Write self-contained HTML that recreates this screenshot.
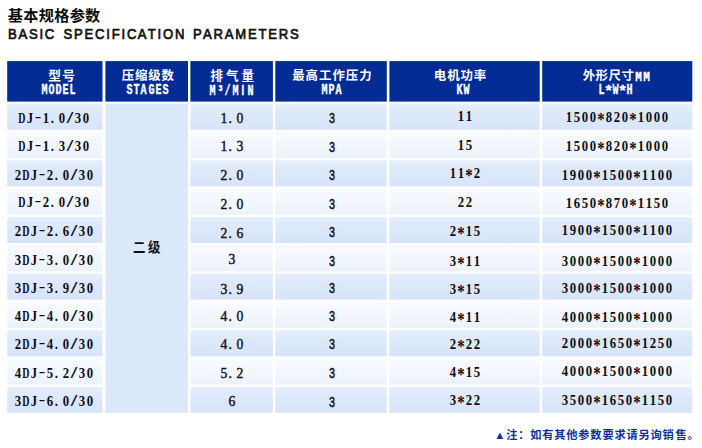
<!DOCTYPE html>
<html lang="zh"><head><meta charset="utf-8"><title>基本规格参数</title><style>
html,body{margin:0;padding:0;background:#fff;}
body{width:702px;height:448px;position:relative;overflow:hidden;font-family:"Liberation Sans",sans-serif;}
.bg{position:absolute;left:0;top:0;}
.bg text{font-family:"Liberation Sans","Noto Sans CJK SC",sans-serif;font-weight:bold;}
.t2{position:absolute;left:7.2px;top:25.1px;font-size:14.5px;line-height:18px;letter-spacing:0;color:#111;white-space:nowrap;font-weight:normal;-webkit-text-stroke:0.7px #111;transform:scaleX(0.9);transform-origin:0 0;font-kerning:none;}
.t2 i{display:inline-block;font-style:normal;text-align:center;}
.hl{position:absolute;top:82.5px;-webkit-text-stroke:0.4px #fff;height:14px;line-height:14px;font-family:"Liberation Mono",monospace;font-weight:bold;font-size:14.6px;color:#fff;white-space:nowrap;}
.hl i{display:inline-block;font-style:normal;text-align:left;text-indent:-0.9px;transform:scaleX(0.69);transform-origin:50% 50%;}
.hl.mm{top:70.7px;font-size:12.8px;}
.hl.mm i{text-indent:-0.2px;transform:scaleX(0.86);}
.hl i.I{font-family:"Liberation Sans",sans-serif;font-size:14px;text-align:center;text-indent:0;}
.hl i.st{transform:translateY(2.4px) scale(1.05,1.0);}
.bt{position:absolute;height:20px;line-height:20px;font-family:"Liberation Serif",serif;font-weight:bold;font-size:15.5px;color:#0c0c12;white-space:nowrap;}
.bt i{display:inline-block;width:8px;font-style:normal;text-align:center;transform:scaleX(0.82);}
.bt.c3{font-weight:normal;-webkit-text-stroke:0.4px #0c0c12;}
.bt.c3 i{transform:scaleX(0.88);}
.bt.c4{font-family:"Liberation Sans",sans-serif;font-weight:normal;font-size:15px;-webkit-text-stroke:0.45px #0c0c12;}
.bt.c4 i{transform:scaleX(0.72);}
.bt i.D{transform:scaleX(0.64);transform-origin:50% 50%;text-indent:-1.7px;}
.bt i.dash{transform:translateY(-2.4px) scaleX(1.25);}
.bt i.sl{transform:scale(1.5,1.05);}
.bt i.st{transform:translateY(2.8px) scale(0.95,1.15);}
.bt i.dot{text-align:left;text-indent:0px;}
</style></head><body><svg class="bg" role="img" aria-label="基本规格参数 型号 压缩级数 排气量 最高工作压力 电机功率 外形尺寸 二级 ▲注：如有其他参数要求请另询销售。" width="702" height="448" viewBox="0 0 702 448"><defs><linearGradient id="ga" x1="0" y1="0" x2="0" y2="1"><stop offset="0" stop-color="#e5effd"/><stop offset="0.35" stop-color="#dde9fb"/><stop offset="1" stop-color="#d7e4fa"/></linearGradient><linearGradient id="gb" x1="0" y1="0" x2="0" y2="1"><stop offset="0" stop-color="#f9fbff"/><stop offset="1" stop-color="#ecf2fc"/></linearGradient></defs><rect x="7.2" y="61.1" width="95.3" height="40.5" fill="#022b94"/><rect x="105.4" y="61.1" width="82.6" height="40.5" fill="#022b94"/><rect x="190.4" y="61.1" width="82.5" height="40.5" fill="#022b94"/><rect x="275.3" y="61.1" width="111.5" height="40.5" fill="#022b94"/><rect x="389.4" y="61.1" width="150.3" height="40.5" fill="#022b94"/><rect x="542.2" y="61.1" width="150.1" height="40.5" fill="#022b94"/><rect x="7.2" y="103.70" width="95.3" height="26.1" fill="url(#ga)"/><rect x="190.4" y="103.70" width="82.5" height="26.1" fill="url(#ga)"/><rect x="275.3" y="103.70" width="111.5" height="26.1" fill="url(#ga)"/><rect x="389.4" y="103.70" width="150.3" height="26.1" fill="url(#ga)"/><rect x="542.2" y="103.70" width="150.1" height="26.1" fill="url(#ga)"/><rect x="7.2" y="132.01" width="95.3" height="26.1" fill="url(#gb)"/><rect x="190.4" y="132.01" width="82.5" height="26.1" fill="url(#gb)"/><rect x="275.3" y="132.01" width="111.5" height="26.1" fill="url(#gb)"/><rect x="389.4" y="132.01" width="150.3" height="26.1" fill="url(#gb)"/><rect x="542.2" y="132.01" width="150.1" height="26.1" fill="url(#gb)"/><rect x="7.2" y="160.32" width="95.3" height="26.1" fill="url(#ga)"/><rect x="190.4" y="160.32" width="82.5" height="26.1" fill="url(#ga)"/><rect x="275.3" y="160.32" width="111.5" height="26.1" fill="url(#ga)"/><rect x="389.4" y="160.32" width="150.3" height="26.1" fill="url(#ga)"/><rect x="542.2" y="160.32" width="150.1" height="26.1" fill="url(#ga)"/><rect x="7.2" y="188.63" width="95.3" height="26.1" fill="url(#gb)"/><rect x="190.4" y="188.63" width="82.5" height="26.1" fill="url(#gb)"/><rect x="275.3" y="188.63" width="111.5" height="26.1" fill="url(#gb)"/><rect x="389.4" y="188.63" width="150.3" height="26.1" fill="url(#gb)"/><rect x="542.2" y="188.63" width="150.1" height="26.1" fill="url(#gb)"/><rect x="7.2" y="216.94" width="95.3" height="26.1" fill="url(#ga)"/><rect x="190.4" y="216.94" width="82.5" height="26.1" fill="url(#ga)"/><rect x="275.3" y="216.94" width="111.5" height="26.1" fill="url(#ga)"/><rect x="389.4" y="216.94" width="150.3" height="26.1" fill="url(#ga)"/><rect x="542.2" y="216.94" width="150.1" height="26.1" fill="url(#ga)"/><rect x="7.2" y="245.25" width="95.3" height="26.1" fill="url(#gb)"/><rect x="190.4" y="245.25" width="82.5" height="26.1" fill="url(#gb)"/><rect x="275.3" y="245.25" width="111.5" height="26.1" fill="url(#gb)"/><rect x="389.4" y="245.25" width="150.3" height="26.1" fill="url(#gb)"/><rect x="542.2" y="245.25" width="150.1" height="26.1" fill="url(#gb)"/><rect x="7.2" y="273.56" width="95.3" height="26.1" fill="url(#ga)"/><rect x="190.4" y="273.56" width="82.5" height="26.1" fill="url(#ga)"/><rect x="275.3" y="273.56" width="111.5" height="26.1" fill="url(#ga)"/><rect x="389.4" y="273.56" width="150.3" height="26.1" fill="url(#ga)"/><rect x="542.2" y="273.56" width="150.1" height="26.1" fill="url(#ga)"/><rect x="7.2" y="301.87" width="95.3" height="26.1" fill="url(#gb)"/><rect x="190.4" y="301.87" width="82.5" height="26.1" fill="url(#gb)"/><rect x="275.3" y="301.87" width="111.5" height="26.1" fill="url(#gb)"/><rect x="389.4" y="301.87" width="150.3" height="26.1" fill="url(#gb)"/><rect x="542.2" y="301.87" width="150.1" height="26.1" fill="url(#gb)"/><rect x="7.2" y="330.18" width="95.3" height="26.1" fill="url(#ga)"/><rect x="190.4" y="330.18" width="82.5" height="26.1" fill="url(#ga)"/><rect x="275.3" y="330.18" width="111.5" height="26.1" fill="url(#ga)"/><rect x="389.4" y="330.18" width="150.3" height="26.1" fill="url(#ga)"/><rect x="542.2" y="330.18" width="150.1" height="26.1" fill="url(#ga)"/><rect x="7.2" y="358.49" width="95.3" height="26.1" fill="url(#gb)"/><rect x="190.4" y="358.49" width="82.5" height="26.1" fill="url(#gb)"/><rect x="275.3" y="358.49" width="111.5" height="26.1" fill="url(#gb)"/><rect x="389.4" y="358.49" width="150.3" height="26.1" fill="url(#gb)"/><rect x="542.2" y="358.49" width="150.1" height="26.1" fill="url(#gb)"/><rect x="7.2" y="386.80" width="95.3" height="26.1" fill="url(#ga)"/><rect x="190.4" y="386.80" width="82.5" height="26.1" fill="url(#ga)"/><rect x="275.3" y="386.80" width="111.5" height="26.1" fill="url(#ga)"/><rect x="389.4" y="386.80" width="150.3" height="26.1" fill="url(#ga)"/><rect x="542.2" y="386.80" width="150.1" height="26.1" fill="url(#ga)"/><rect x="105.4" y="103.70" width="82.6" height="309.25" fill="#dce9fc"/><text x="7.85 23.30 38.75 54.20 69.65 85.11" y="20.77" font-size="15.17" fill="#0a0a0a">基本规格参数</text><text x="48.25 62.37" y="80.49" font-size="12.76" fill="#fff">型号</text><text x="121.75 135.04 148.33 161.62" y="80.43" font-size="12.41" fill="#fff">压缩级数</text><text x="210.44 225.95 241.46" y="80.47" font-size="12.55" fill="#fff">排气量</text><text x="292.18 305.59 319.00 332.41 345.82 359.23" y="80.42" font-size="12.39" fill="#fff">最高工作压力</text><text x="433.82 447.16 460.51 473.85" y="80.46" font-size="12.47" fill="#fff">电机功率</text><text x="582.63 595.55 608.47 621.39" y="80.39" font-size="12.46" fill="#fff">外形尺寸</text><text transform="translate(132.89 251.60) scale(0.885 1)" x="0 17.02" y="0" font-size="13.95" fill="#111">二级</text><text x="494.20 506.22 518.24 530.26 542.28 554.30 566.32 578.34 590.36 602.38 614.40 626.42 638.44 650.46 662.48 675.50 687.50" y="438.50" font-size="11.2" fill="#0c2f9e">▲注：如有其他参数要求请另询销售。</text></svg><div class="t2"><i style="width:11.67px">B</i><i style="width:11.69px">A</i><i style="width:11.69px">S</i><i style="width:6.04px">I</i><i style="width:12.49px">C</i><i style="width:8.24px">&nbsp;</i><i style="width:11.69px">S</i><i style="width:11.69px">P</i><i style="width:11.69px">E</i><i style="width:12.49px">C</i><i style="width:6.04px">I</i><i style="width:10.88px">F</i><i style="width:6.04px">I</i><i style="width:12.49px">C</i><i style="width:10.61px">A</i><i style="width:10.88px">T</i><i style="width:6.04px">I</i><i style="width:13.28px">O</i><i style="width:12.50px">N</i><i style="width:8.23px">&nbsp;</i><i style="width:10.61px">P</i><i style="width:11.69px">A</i><i style="width:12.49px">R</i><i style="width:11.69px">A</i><i style="width:14.09px">M</i><i style="width:11.69px">E</i><i style="width:10.88px">T</i><i style="width:11.69px">E</i><i style="width:12.49px">R</i><i style="width:11.69px">S</i></div><div class="hl" style="left:41.05px;width:35.50px"><i style="width:7.10px">M</i><i style="width:7.10px">O</i><i style="width:7.10px">D</i><i style="width:7.10px">E</i><i style="width:7.10px">L</i></div><div class="hl" style="left:126.20px;width:42.90px"><i style="width:7.15px">S</i><i style="width:7.15px">T</i><i style="width:7.15px">A</i><i style="width:7.15px">G</i><i style="width:7.15px">E</i><i style="width:7.15px">S</i></div><div class="hl" style="left:209.10px;width:45.60px"><i style="width:7.60px">M</i><i style="width:7.60px">³</i><i style="width:7.60px">/</i><i style="width:7.60px">M</i><i class="I" style="width:7.60px">I</i><i style="width:7.60px">N</i></div><div class="hl" style="left:321.40px;width:21.00px"><i style="width:7.00px">M</i><i style="width:7.00px">P</i><i style="width:7.00px">A</i></div><div class="hl" style="left:455.80px;width:14.00px"><i style="width:7.00px">K</i><i style="width:7.00px">W</i></div><div class="hl" style="left:598.25px;width:35.00px"><i style="width:7.00px">L</i><i class="st" style="width:7.00px">*</i><i style="width:7.00px">W</i><i class="st" style="width:7.00px">*</i><i style="width:7.00px">H</i></div><div class="hl mm" style="left:635.30px;width:14.5px"><i style="width:7.3px">M</i><i style="width:7.3px">M</i></div><div class="bt c1" style="left:17.50px;top:107.98px;width:72.0px"><i class="D">D</i><i class="J">J</i><i class="dash">-</i><i>1</i><i class="dot">.</i><i>0</i><i class="sl">/</i><i>3</i><i>0</i></div><div class="bt c3" style="left:219.65px;top:107.98px;width:24.0px"><i>1</i><i class="dot">.</i><i>0</i></div><div class="bt c4" style="left:327.65px;top:107.68px;width:8.0px"><i>3</i></div><div class="bt c5" style="left:456.85px;top:105.88px;width:16.0px"><i>1</i><i>1</i></div><div class="bt c6" style="left:564.75px;top:107.48px;width:104.0px"><i>1</i><i>5</i><i>0</i><i>0</i><i class="st">*</i><i>8</i><i>2</i><i>0</i><i class="st">*</i><i>1</i><i>0</i><i>0</i><i>0</i></div><div class="bt c1" style="left:17.50px;top:136.28px;width:72.0px"><i class="D">D</i><i class="J">J</i><i class="dash">-</i><i>1</i><i class="dot">.</i><i>3</i><i class="sl">/</i><i>3</i><i>0</i></div><div class="bt c3" style="left:219.65px;top:136.28px;width:24.0px"><i>1</i><i class="dot">.</i><i>3</i></div><div class="bt c4" style="left:327.65px;top:136.78px;width:8.0px"><i>3</i></div><div class="bt c5" style="left:456.85px;top:134.68px;width:16.0px"><i>1</i><i>5</i></div><div class="bt c6" style="left:564.75px;top:136.28px;width:104.0px"><i>1</i><i>5</i><i>0</i><i>0</i><i class="st">*</i><i>8</i><i>2</i><i>0</i><i class="st">*</i><i>1</i><i>0</i><i>0</i><i>0</i></div><div class="bt c1" style="left:13.50px;top:164.59px;width:80.0px"><i>2</i><i class="D">D</i><i class="J">J</i><i class="dash">-</i><i>2</i><i class="dot">.</i><i>0</i><i class="sl">/</i><i>3</i><i>0</i></div><div class="bt c3" style="left:219.65px;top:164.59px;width:24.0px"><i>2</i><i class="dot">.</i><i>0</i></div><div class="bt c4" style="left:327.65px;top:165.09px;width:8.0px"><i>3</i></div><div class="bt c5" style="left:448.85px;top:163.49px;width:32.0px"><i>1</i><i>1</i><i class="st">*</i><i>2</i></div><div class="bt c6" style="left:560.75px;top:164.59px;width:112.0px"><i>1</i><i>9</i><i>0</i><i>0</i><i class="st">*</i><i>1</i><i>5</i><i>0</i><i>0</i><i class="st">*</i><i>1</i><i>1</i><i>0</i><i>0</i></div><div class="bt c1" style="left:17.50px;top:192.10px;width:72.0px"><i class="D">D</i><i class="J">J</i><i class="dash">-</i><i>2</i><i class="dot">.</i><i>0</i><i class="sl">/</i><i>3</i><i>0</i></div><div class="bt c3" style="left:219.65px;top:194.40px;width:24.0px"><i>2</i><i class="dot">.</i><i>0</i></div><div class="bt c4" style="left:327.65px;top:193.50px;width:8.0px"><i>3</i></div><div class="bt c5" style="left:456.85px;top:191.60px;width:16.0px"><i>2</i><i>2</i></div><div class="bt c6" style="left:564.75px;top:192.90px;width:104.0px"><i>1</i><i>6</i><i>5</i><i>0</i><i class="st">*</i><i>8</i><i>7</i><i>0</i><i class="st">*</i><i>1</i><i>1</i><i>5</i><i>0</i></div><div class="bt c1" style="left:13.50px;top:221.21px;width:80.0px"><i>2</i><i class="D">D</i><i class="J">J</i><i class="dash">-</i><i>2</i><i class="dot">.</i><i>6</i><i class="sl">/</i><i>3</i><i>0</i></div><div class="bt c3" style="left:219.65px;top:223.31px;width:24.0px"><i>2</i><i class="dot">.</i><i>6</i></div><div class="bt c4" style="left:327.65px;top:221.71px;width:8.0px"><i>3</i></div><div class="bt c5" style="left:448.85px;top:221.31px;width:32.0px"><i>2</i><i class="st">*</i><i>1</i><i>5</i></div><div class="bt c6" style="left:560.75px;top:220.21px;width:112.0px"><i>1</i><i>9</i><i>0</i><i>0</i><i class="st">*</i><i>1</i><i>5</i><i>0</i><i>0</i><i class="st">*</i><i>1</i><i>1</i><i>0</i><i>0</i></div><div class="bt c1" style="left:13.50px;top:250.32px;width:80.0px"><i>3</i><i class="D">D</i><i class="J">J</i><i class="dash">-</i><i>3</i><i class="dot">.</i><i>0</i><i class="sl">/</i><i>3</i><i>0</i></div><div class="bt c3" style="left:227.65px;top:249.22px;width:8.0px"><i>3</i></div><div class="bt c4" style="left:327.65px;top:250.92px;width:8.0px"><i>3</i></div><div class="bt c5" style="left:448.85px;top:251.22px;width:32.0px"><i>3</i><i class="st">*</i><i>1</i><i>1</i></div><div class="bt c6" style="left:560.75px;top:250.62px;width:112.0px"><i>3</i><i>0</i><i>0</i><i>0</i><i class="st">*</i><i>1</i><i>5</i><i>0</i><i>0</i><i class="st">*</i><i>1</i><i>0</i><i>0</i><i>0</i></div><div class="bt c1" style="left:13.50px;top:278.33px;width:80.0px"><i>3</i><i class="D">D</i><i class="J">J</i><i class="dash">-</i><i>3</i><i class="dot">.</i><i>9</i><i class="sl">/</i><i>3</i><i>0</i></div><div class="bt c3" style="left:219.65px;top:278.73px;width:24.0px"><i>3</i><i class="dot">.</i><i>9</i></div><div class="bt c4" style="left:327.65px;top:278.43px;width:8.0px"><i>3</i></div><div class="bt c5" style="left:448.85px;top:278.53px;width:32.0px"><i>3</i><i class="st">*</i><i>1</i><i>5</i></div><div class="bt c6" style="left:560.75px;top:278.44px;width:112.0px"><i>3</i><i>0</i><i>0</i><i>0</i><i class="st">*</i><i>1</i><i>5</i><i>0</i><i>0</i><i class="st">*</i><i>1</i><i>0</i><i>0</i><i>0</i></div><div class="bt c1" style="left:13.50px;top:306.14px;width:80.0px"><i>4</i><i class="D">D</i><i class="J">J</i><i class="dash">-</i><i>4</i><i class="dot">.</i><i>0</i><i class="sl">/</i><i>3</i><i>0</i></div><div class="bt c3" style="left:219.65px;top:306.14px;width:24.0px"><i>4</i><i class="dot">.</i><i>0</i></div><div class="bt c4" style="left:327.65px;top:305.84px;width:8.0px"><i>3</i></div><div class="bt c5" style="left:448.85px;top:306.84px;width:32.0px"><i>4</i><i class="st">*</i><i>1</i><i>1</i></div><div class="bt c6" style="left:560.75px;top:306.94px;width:112.0px"><i>4</i><i>0</i><i>0</i><i>0</i><i class="st">*</i><i>1</i><i>5</i><i>0</i><i>0</i><i class="st">*</i><i>1</i><i>0</i><i>0</i><i>0</i></div><div class="bt c1" style="left:13.50px;top:334.45px;width:80.0px"><i>2</i><i class="D">D</i><i class="J">J</i><i class="dash">-</i><i>4</i><i class="dot">.</i><i>0</i><i class="sl">/</i><i>3</i><i>0</i></div><div class="bt c3" style="left:219.65px;top:334.15px;width:24.0px"><i>4</i><i class="dot">.</i><i>0</i></div><div class="bt c4" style="left:327.65px;top:334.15px;width:8.0px"><i>3</i></div><div class="bt c5" style="left:448.85px;top:333.95px;width:32.0px"><i>2</i><i class="st">*</i><i>2</i><i>2</i></div><div class="bt c6" style="left:560.75px;top:332.65px;width:112.0px"><i>2</i><i>0</i><i>0</i><i>0</i><i class="st">*</i><i>1</i><i>6</i><i>5</i><i>0</i><i class="st">*</i><i>1</i><i>2</i><i>5</i><i>0</i></div><div class="bt c1" style="left:13.50px;top:362.76px;width:80.0px"><i>4</i><i class="D">D</i><i class="J">J</i><i class="dash">-</i><i>5</i><i class="dot">.</i><i>2</i><i class="sl">/</i><i>3</i><i>0</i></div><div class="bt c3" style="left:219.65px;top:362.76px;width:24.0px"><i>5</i><i class="dot">.</i><i>2</i></div><div class="bt c4" style="left:327.65px;top:362.66px;width:8.0px"><i>3</i></div><div class="bt c5" style="left:448.85px;top:361.56px;width:32.0px"><i>4</i><i class="st">*</i><i>1</i><i>5</i></div><div class="bt c6" style="left:560.75px;top:361.26px;width:112.0px"><i>4</i><i>0</i><i>0</i><i>0</i><i class="st">*</i><i>1</i><i>5</i><i>0</i><i>0</i><i class="st">*</i><i>1</i><i>0</i><i>0</i><i>0</i></div><div class="bt c1" style="left:13.50px;top:391.07px;width:80.0px"><i>3</i><i class="D">D</i><i class="J">J</i><i class="dash">-</i><i>6</i><i class="dot">.</i><i>0</i><i class="sl">/</i><i>3</i><i>0</i></div><div class="bt c3" style="left:227.65px;top:391.27px;width:8.0px"><i>6</i></div><div class="bt c4" style="left:327.65px;top:391.77px;width:8.0px"><i>3</i></div><div class="bt c5" style="left:448.85px;top:389.67px;width:32.0px"><i>3</i><i class="st">*</i><i>2</i><i>2</i></div><div class="bt c6" style="left:560.75px;top:390.17px;width:112.0px"><i>3</i><i>5</i><i>0</i><i>0</i><i class="st">*</i><i>1</i><i>6</i><i>5</i><i>0</i><i class="st">*</i><i>1</i><i>1</i><i>5</i><i>0</i></div></body></html>
